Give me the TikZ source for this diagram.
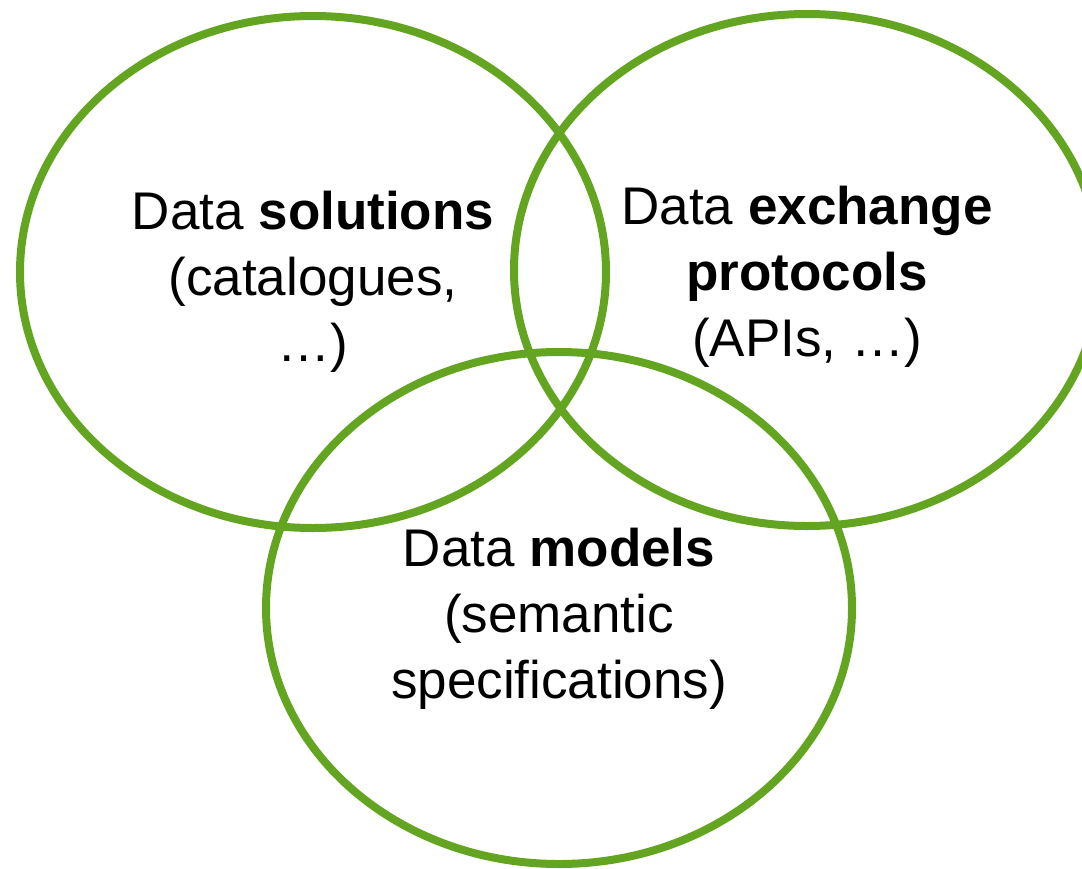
\documentclass[tikz,border=0pt]{standalone}
\usepackage{fontspec}
\setmainfont{Liberation Sans}
\usetikzlibrary{shapes.geometric}
\definecolor{venngreen}{RGB}{99,164,32}
\tikzset{
  vennset/.style={ellipse, draw=venngreen, line width=4pt,
    minimum width=293pt, minimum height=256pt},
  lbl/.style={align=center, font=\fontsize{26.5}{33}\selectfont},
}

\begin{document}
\begin{tikzpicture}[x=0.5pt, y=-0.5pt]
    \useasboundingbox (0,0) rectangle (1082,868);

    \node[vennset] (sol) at (313,272) {};
    \node[vennset] (exc) at (807,270) {};
    \node[vennset] (mod) at (559,608) {};

    \node[lbl] (soltxt) at (313,282) {Data \textbf{solutions}\\(catalogues,\\…)};
    \node[lbl] (exctxt) at (807,277) {Data \textbf{exchange}\\\textbf{protocols}\\(APIs, …)};
    \node[lbl] (modtxt) at (559,619) {Data \textbf{models}\\(semantic\\specifications)};
  \end{tikzpicture}
\end{document}
